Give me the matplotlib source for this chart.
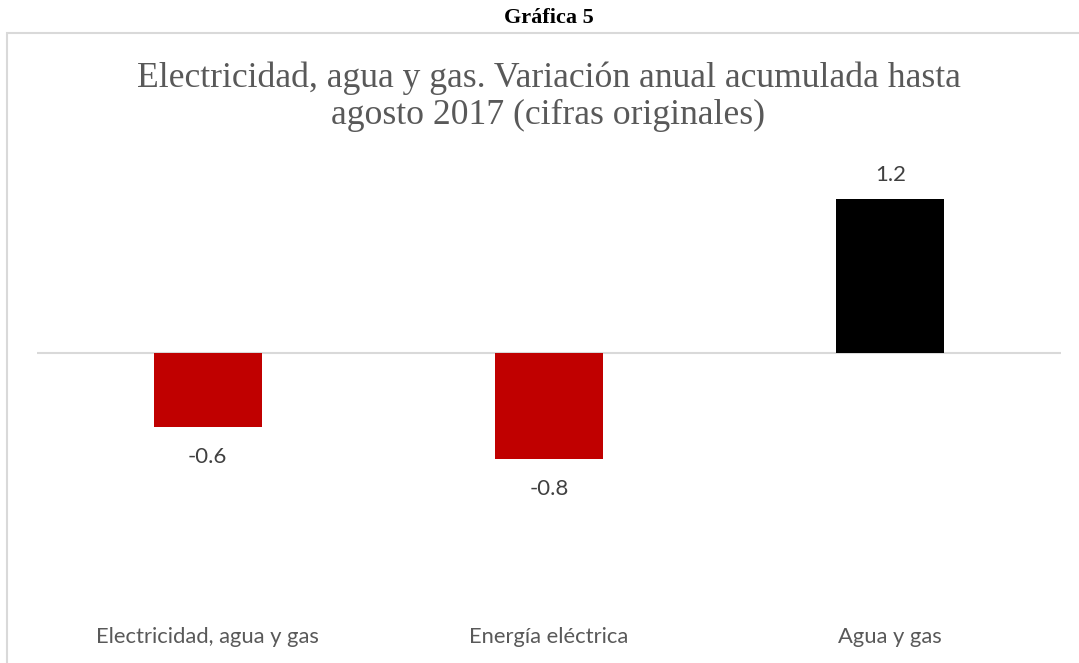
import matplotlib.pyplot as plt
from matplotlib.patches import Rectangle

# data
categories = ['Electricidad, agua y gas', 'Energía eléctrica', 'Agua y gas']
values = [-0.58, -0.83, 1.20]
colors = ['#C00000', '#C00000', '#000000']

W, H = 1079, 663
fig = plt.figure(figsize=(W / 100, H / 100), dpi=100)

# chart frame (cut off at right and bottom like the source)
fig.patches.append(Rectangle((7 / W, -0.1), 1.2, 1 - 33 / H + 0.1, transform=fig.transFigure,
                             fill=False, edgecolor='#d9d9d9', linewidth=1.5))

fig.text(549 / W, 1 - 18 / H, 'Gráfica 5', ha='center', va='center',
         family='Liberation Serif', fontweight='bold', fontsize=16, color='black')
fig.text(548.5 / W, 1 - 97 / H,
         'Electricidad, agua y gas. Variación anual acumulada hasta\nagosto 2017 (cifras originales)',
         ha='center', va='center', family='Liberation Serif', fontsize=25.7,
         color='#595959', linespacing=1.17)

ax = fig.add_axes([37 / W, 1 - 609 / H, 1024 / W, 448 / H])
x = range(len(categories))
bars = ax.bar(x, values, width=0.316, color=colors)
ax.axhline(0, color='#d9d9d9', linewidth=1.5, zorder=0)
ax.set_xlim(-0.5, 2.5)
ax.set_ylim(-2.0, 1.5)

for b, v in zip(bars, values):
    off = 17.5 if v >= 0 else -21.5
    ax.annotate(f'{v:.1f}', (b.get_x() + b.get_width() / 2, v), xytext=(0, off),
                textcoords='offset points', ha='center', va='center',
                family='Lato', fontsize=16, color='#404040')

ax.set_xticks(list(x))
ax.set_xticklabels(categories, family='Lato', fontsize=15.8, color='#595959')
ax.tick_params(axis='x', length=0, pad=13)
ax.set_yticks([])
for s in ax.spines.values():
    s.set_visible(False)
ax.patch.set_alpha(0)

fig.savefig('out.png', dpi=100)
